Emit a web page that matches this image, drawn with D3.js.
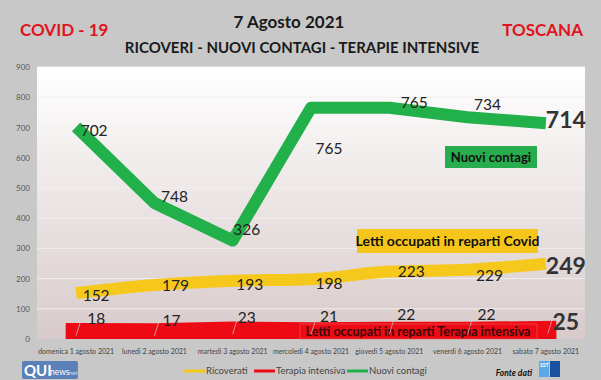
<!DOCTYPE html>
<html><head><meta charset="utf-8">
<script src="https://cdn.jsdelivr.net/npm/d3@7"></script>
<style>body{margin:0;background:#c8c8c8;}svg{display:block;font-family:Lato,"Open Sans",sans-serif;}</style>
</head><body><svg id="c" width="601" height="380"></svg>
<script>
const categories = ["domenica 1 agosto 2021","lunedì 2 agosto 2021","martedì 3 agosto 2021","mercoledì 4 agosto 2021","giovedì 5 agosto 2021","venerdì 6 agosto 2021","sabato 7 agosto 2021"];
const ricoverati = [152,179,193,198,223,229,249];
const terapia = [18,17,23,21,22,22,25];
const nuoviPlot = [702,450,326,765,765,734,714];
const nuoviLabels = ["702","748","326","765","765","734","714"];
const yTicks = [0,100,200,300,400,500,600,700,800,900];
const legendNames = ["Ricoverati","Terapia intensiva","Nuovi contagi"];

const svg = d3.select("#c");
const W=601,H=380;
const m={l:37,r:16,t:67,b:41};
const x = d3.scaleBand().domain(categories).range([m.l,W-m.r]);
const y = d3.scaleLinear().domain([0,900]).range([H-m.b,m.t]);
const cx = d => x(d)+x.bandwidth()/2;

svg.append("rect").attr("width",W).attr("height",H).attr("fill","#c8c8c8");
const defs=svg.append("defs");
const g=defs.append("linearGradient").attr("id","bg").attr("x1",0).attr("x2",0).attr("y1",0).attr("y2",1);
g.append("stop").attr("offset","0%").attr("stop-color","#ffffff");
g.append("stop").attr("offset","100%").attr("stop-color","#d8caca");
defs.append("clipPath").attr("id","clip").append("rect").attr("x",m.l).attr("y",m.t).attr("width",W-m.l-m.r).attr("height",H-m.t-m.b);
svg.append("rect").attr("x",m.l).attr("y",m.t).attr("width",W-m.l-m.r).attr("height",H-m.t-m.b).attr("fill","url(#bg)");

// grid
svg.append("g").selectAll("line").data(yTicks.slice(1)).join("line")
  .attr("x1",m.l).attr("x2",W-m.r).attr("y1",d=>y(d)).attr("y2",d=>y(d))
  .attr("stroke","#f2eeee").attr("stroke-width",1);
// y axis
const ya = svg.append("g").attr("transform",`translate(${m.l-5},0)`)
  .call(d3.axisLeft(y).tickValues(yTicks).tickSize(0).tickPadding(2));
ya.select(".domain").remove();
ya.selectAll("text").attr("fill","#555").style("font-size","8px").style("font-family","Lato,sans-serif");
// x axis
const xa = svg.append("g").attr("transform",`translate(0,${H-m.b+8})`)
  .call(d3.axisBottom(x).tickSize(0).tickPadding(2));
xa.select(".domain").remove();
xa.selectAll("text").attr("fill","#444").style("font-size","7px").style("font-family","Lato,sans-serif");

// titles
const t=svg.append("g").style("font-weight","bold");
t.append("text").attr("x",20).attr("y",36).attr("fill","#e0141e").style("font-size","17px").text("COVID - 19");
t.append("text").attr("x",289).attr("y",28).attr("text-anchor","middle").attr("fill","#1a1a1a").style("font-size","17px").text("7 Agosto 2021");
t.append("text").attr("x",302).attr("y",53).attr("text-anchor","middle").attr("fill","#1a1a1a").style("font-size","15px").text("RICOVERI - NUOVI CONTAGI - TERAPIE INTENSIVE");
t.append("text").attr("x",583).attr("y",36).attr("text-anchor","end").attr("fill","#e0141e").style("font-size","17px").text("TOSCANA");

const plot=svg.append("g").attr("clip-path","url(#clip)");
// red thick line
plot.append("path").datum(terapia)
  .attr("d",d3.line().x((d,i)=>cx(categories[i])).y(d=>y(d)))
  .attr("fill","none").attr("stroke","#ee0a14").attr("stroke-width",21).attr("stroke-linecap","square");
// yellow
plot.append("path").datum(ricoverati)
  .attr("d",d3.line().x((d,i)=>cx(categories[i])).y(d=>y(d)).curve(d3.curveMonotoneX))
  .attr("fill","none").attr("stroke","#f7c81c").attr("stroke-width",12);
// green
plot.append("path").datum(nuoviPlot)
  .attr("d",d3.line().x((d,i)=>cx(categories[i])).y(d=>y(d)))
  .attr("fill","none").attr("stroke","#22b04a").attr("stroke-width",12).attr("stroke-linejoin","round");

// annotation boxes
function box(x0,y0,w,h,fill,txt,fs,col){
  svg.append("rect").attr("x",x0).attr("y",y0).attr("width",w).attr("height",h).attr("fill",fill);
  svg.append("text").attr("x",x0+w/2).attr("y",y0+h/2).attr("dy","0.35em").attr("text-anchor","middle")
    .attr("fill",col).style("font-weight","bold").style("font-size",fs+"px").text(txt);
}
box(445,146,92,22,"#28ad4e","Nuovi contagi",13,"#111");
box(357,229,181,24,"#f6c51a","Letti occupati in reparti Covid",14,"#111");
svg.append("rect").attr("x",300).attr("y",324).attr("width",237).attr("height",15).attr("fill","none").attr("stroke","#f05a5a").attr("stroke-width",0.6);
svg.append("text").attr("x",418).attr("y",332).attr("dy","0.35em").attr("text-anchor","middle").attr("fill","#3a0808")
  .style("font-weight","bold").style("font-size","12.5px").text("Letti occupati in reparti Terapia intensiva");

// leader lines for terapia labels
const last = categories.length-1;
svg.append("g").selectAll("path").data(terapia).join("path")
  .attr("d",(d,i)=>{const px=cx(categories[i])+(i===last?2:0),py=y(d);return `M${px},${py+2}L${px+4},${py-11}L${px+8},${py-12}`;})
  .attr("fill","none").attr("stroke","#ccc").attr("stroke-width",0.7);

// data labels
function labels(vals,texts,dx,dy){
  svg.append("g").selectAll("text").data(vals).join("text")
    .attr("x",(d,i)=>cx(categories[i])+dx[i]).attr("y",(d,i)=>y(d)+dy[i]).attr("dy","0.35em")
    .attr("text-anchor","middle").attr("fill",(d,i)=>i===last?"#333":"#222")
    .style("font-size",(d,i)=>i===last?"23px":"15.5px").style("font-weight",(d,i)=>i===last?"bold":"normal")
    .text((d,i)=>texts[i]);
}
labels(ricoverati,ricoverati.map(String),[20,21,17,18,22,22,20],[3,1,4,4,0,6,2]);
labels(terapia,terapia.map(String),[20,17,14,18,17,19,20],[-15,-13,-14,-16,-18,-18,-9]);
labels(nuoviPlot,nuoviLabels,[18,20,14,18,25,20,20],[4,-6,-11,41,-5,-13,-3]);

// legend
const colors=["#f7c81c","#ee0a14","#22b04a"];
const lx=[184,254,347];
const lg=svg.append("g");
legendNames.forEach((n,i)=>{
  lg.append("line").attr("x1",lx[i]).attr("x2",lx[i]+21).attr("y1",371).attr("y2",371).attr("stroke",colors[i]).attr("stroke-width",3);
  lg.append("text").attr("x",lx[i]+22).attr("y",371).attr("dy","0.35em").attr("fill","#444").style("font-size","9.5px").text(n);
});

// logos
const q=svg.append("g");
q.append("rect").attr("x",22).attr("y",361).attr("width",56).attr("height",18).attr("rx",2).attr("fill","#5b7fb8");
q.append("text").attr("x",24).attr("y",376).attr("fill","#fff").style("font-weight","bold").style("font-size","15px").text("QUI");
q.append("text").attr("x",50).attr("y",375).attr("fill","#fff").style("font-size","8.5px").text("news");
q.append("text").attr("x",69).attr("y",375).attr("fill","#cfe0ff").style("font-size","6px").text("net");
svg.append("text").attr("x",532).attr("y",376).attr("text-anchor","end").attr("fill","#111").style("font-style","italic").style("font-weight","bold").style("font-size","8.5px").text("Fonte dati");
svg.append("rect").attr("x",539).attr("y",361).attr("width",10).attr("height",16).attr("fill","#5ca8e8");
svg.append("text").attr("x",540).attr("y",367).attr("fill","#fff").style("font-size","5px").style("font-weight","bold").text("SST");
svg.append("rect").attr("x",550).attr("y",361).attr("width",10).attr("height",16).attr("fill","#1b4fa0");
</script></body></html>
